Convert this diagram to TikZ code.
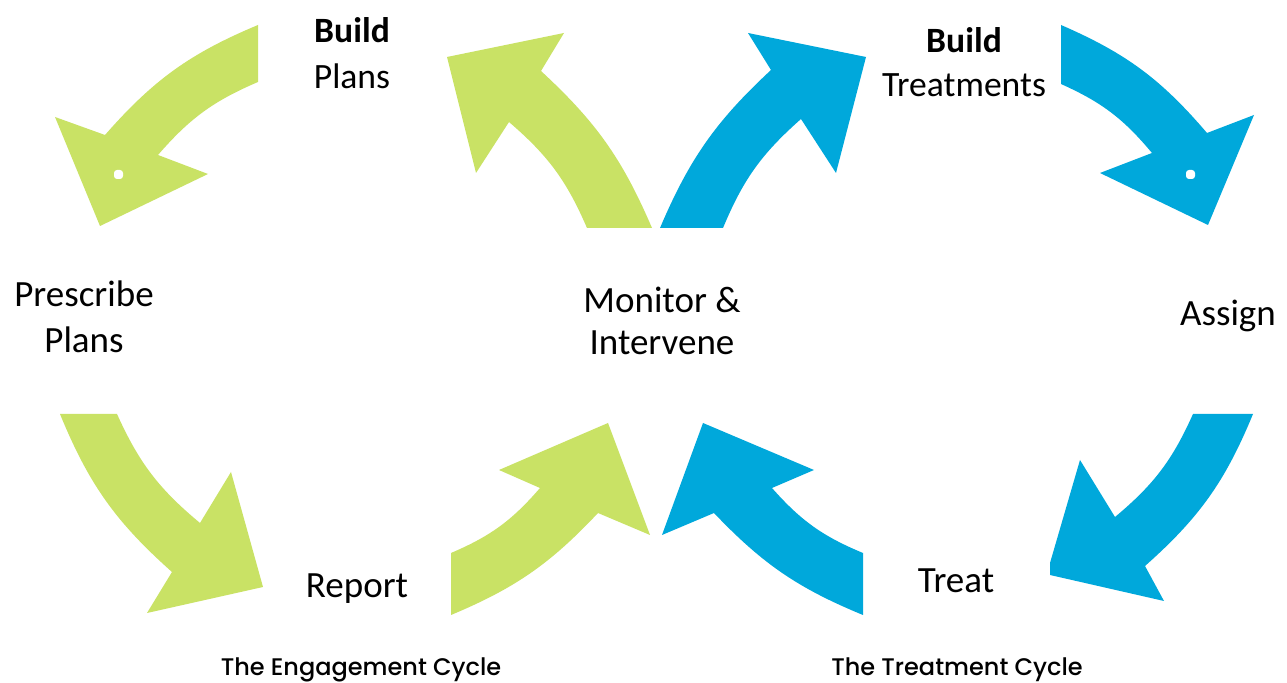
\documentclass[tikz,border=0pt]{standalone}
\usepackage{fontspec}
\setmainfont{Carlito}
\newfontfamily\popfont{Poppins Medium}
\definecolor{grn}{RGB}{201,226,101}
\definecolor{blu}{RGB}{0,168,219}
\begin{document}
\begin{tikzpicture}[x=0.5pt,y=-0.5pt,
  garrow/.style={fill=grn},
  barrow/.style={fill=blu},
  lbl/.style={inner sep=0pt,anchor=base,font=\fontsize{18.5}{22}\selectfont},
  toplbl/.style={inner sep=0pt,anchor=base,font=\fontsize{17.8}{21}\selectfont},
  captxt/.style={inner sep=0pt,anchor=base,font=\popfont\fontsize{12}{14}\selectfont},
  speck/.style={fill=white,draw=none}]
\useasboundingbox (0,0) rectangle (1287,683);
\fill[white] (0,0) rectangle (1287,683);
% Engagement cycle (green)
\fill[garrow] (258,25) to[bend right=13] (105,135) -- (55,117) -- (100,226) -- (208,174) -- (158,155) to[bend left=13] (258,82) -- cycle;
\fill[garrow] (652,228) to[bend right=12] (541,71) -- (564,33) -- (447,57) -- (476,173) -- (509,122) to[bend left=13] (587,228) -- cycle;
\fill[garrow] (60,414) to[bend right=13] (172,572) -- (147,613) -- (263,587) -- (231,472) -- (200,523) to[bend left=13] (117,414) -- cycle;
\fill[garrow] (451,615) to[bend right=12] (598,513) -- (650,535) -- (608,423) -- (499,470) -- (540,488) to[bend left=13] (451,553) -- cycle;
% Treatment cycle (blue)
\fill[barrow] (660,228) to[bend left=12] (771,70) -- (748,33) -- (866,57) -- (836,173) -- (801,119) to[bend right=13] (723,228) -- cycle;
\fill[barrow] (1061,25) to[bend left=13] (1207,133) -- (1254,115) -- (1208,225) -- (1100,173) -- (1152,153) to[bend right=13] (1061,84) -- cycle;
\fill[barrow] (1253,414) to[bend left=13] (1145,566) -- (1164,601) -- (1050,575) -- (1050,563) -- (1080,460) -- (1115,517) to[bend right=13] (1193,414) -- cycle;
\fill[barrow] (863,615) to[bend left=12] (714,513) -- (662,535) -- (703,423) -- (814,470) -- (772,488) to[bend right=13] (863,553) -- cycle;
% small specks
\fill[speck,rounded corners=1.5] (114,170) rectangle (123,179);
\fill[speck,rounded corners=1.5] (1186,170) rectangle (1195,179);
% labels
\node[toplbl] (bp1) at (352,43) {\textbf{Build}};
\node[toplbl] (bp2) at (352,89) {Plans};
\node[toplbl] (bt1) at (964,53) {\textbf{Build}};
\node[toplbl] (bt2) at (964,97) {Treatments};
\node[lbl] (pp1) at (84,307) {Prescribe};
\node[lbl] (pp2) at (84,353) {Plans};
\node[lbl] (mi1) at (662,313) {Monitor \&};
\node[lbl] (mi2) at (662,355) {Intervene};
\node[lbl] (as) at (1228,326) {Assign};
\node[lbl] (rp) at (357,598) {Report};
\node[lbl] (tr) at (956,593) {Treat};
\node[captxt] (ec) at (361,676) {The Engagement Cycle};
\node[captxt] (tc) at (957,676) {The Treatment Cycle};
\end{tikzpicture}
\end{document}
